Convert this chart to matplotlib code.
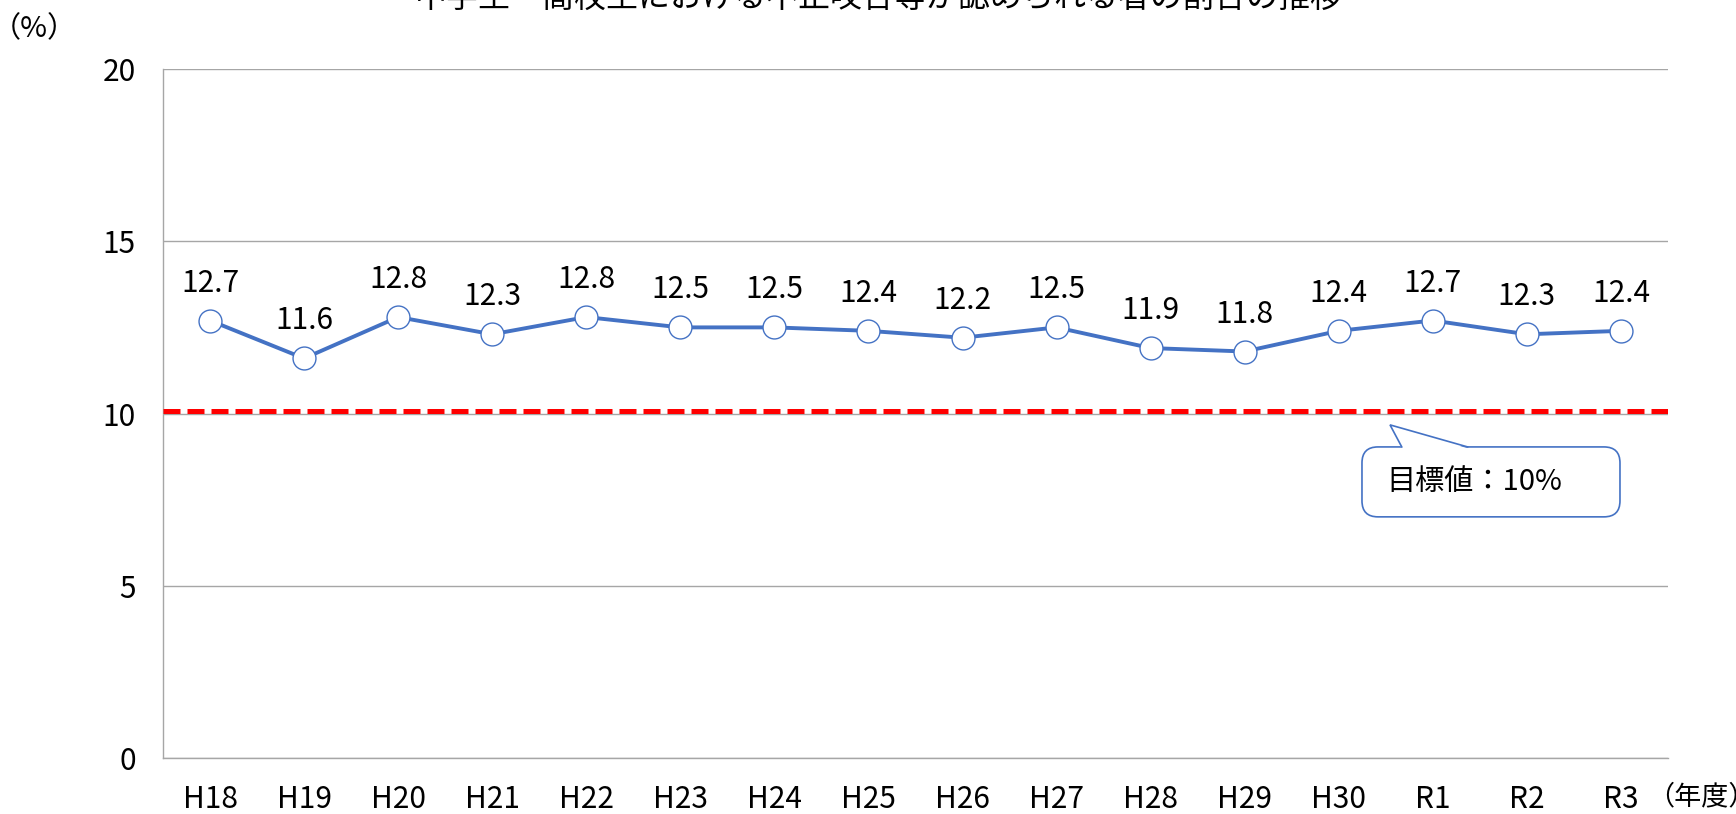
import matplotlib
matplotlib.use("Agg")
import matplotlib.pyplot as plt
from matplotlib.patches import FancyBboxPatch, Polygon

plt.rcParams['font.family'] = ['Noto Sans CJK JP', 'DejaVu Sans']

years = ["H18", "H19", "H20", "H21", "H22", "H23", "H24", "H25",
         "H26", "H27", "H28", "H29", "H30", "R1", "R2", "R3"]
values = [12.7, 11.6, 12.8, 12.3, 12.8, 12.5, 12.5, 12.4,
          12.2, 12.5, 11.9, 11.8, 12.4, 12.7, 12.3, 12.4]
target = 10
title = "中学生・高校生における不正咬合等が認められる者の割合の推移"
yticks = [0, 5, 10, 15, 20]

blue = "#4472C4"
grid_c = "#A6A6A6"
fs = 21.5

fig = plt.figure(figsize=(17.36, 8.14), dpi=100)
ax = fig.add_axes([0.0939, 0.0688, 0.9608 - 0.0939, 0.9152 - 0.0688])

x = list(range(len(years)))
ax.set_xlim(-0.5, len(years) - 0.5)
ax.set_ylim(0, 20)
ax.set_yticks(yticks)
ax.set_xticks(x)
ax.set_xticklabels(years)
ax.yaxis.grid(True, color=grid_c, linewidth=1.0)
ax.set_axisbelow(True)
for s in ["top", "right"]:
    ax.spines[s].set_visible(False)
for s in ["left", "bottom"]:
    ax.spines[s].set_color(grid_c)
    ax.spines[s].set_linewidth(1.0)
ax.tick_params(axis='both', length=0, labelsize=fs, colors='black')
ax.tick_params(axis='y', pad=19.5)
ax.tick_params(axis='x', pad=19)

# target line
ax.axhline(target + 0.08, color="#FF0000", linewidth=3.6,
           linestyle=(0, (3.4, 1.4)), zorder=3)

# series
ax.plot(x, values, color=blue, linewidth=2.8, marker='o', markersize=16.5,
        markerfacecolor='white', markeredgecolor=blue, markeredgewidth=1.0,
        zorder=4, clip_on=False)
for xi, v in zip(x, values):
    ax.annotate(f"{v:.1f}", (xi, v), xytext=(0, 27), textcoords='offset points',
                ha='center', va='center', fontsize=fs)

# callout
bx0, bx1, by0, by1 = 12.247, 14.99, 7.0, 9.03
box = FancyBboxPatch((bx0, by0), bx1 - bx0, by1 - by0,
                     boxstyle="round,pad=0,rounding_size=0.17",
                     mutation_aspect=2.73, facecolor='white',
                     edgecolor=blue, linewidth=1.2, zorder=5)
ax.add_patch(box)
ptr = [(12.67, by1 - 0.04), (12.545, 9.67), (13.37, by1 - 0.04)]
ax.add_patch(Polygon(ptr, closed=True, facecolor='white', edgecolor='none', zorder=6))
ax.plot([12.67, 12.545, 13.37], [by1, 9.67, by1], color=blue, linewidth=1.2,
        zorder=7, solid_joinstyle='miter')
ax.text(12.51, 8.0, "目標値：10%", ha='left', va='center', fontsize=21, zorder=8)

fig.text(0.506, 1 - 7 / 814, title, ha='center', va='baseline', fontsize=23)
fig.text(0.02, 1 - 29 / 814, "（%）", ha='center', va='center', fontsize=21)
fig.text(1647 / 1736, 1 - 797 / 814, "（年度）", ha='left', va='center', fontsize=19.5)

fig.savefig("out.png", dpi=100)
